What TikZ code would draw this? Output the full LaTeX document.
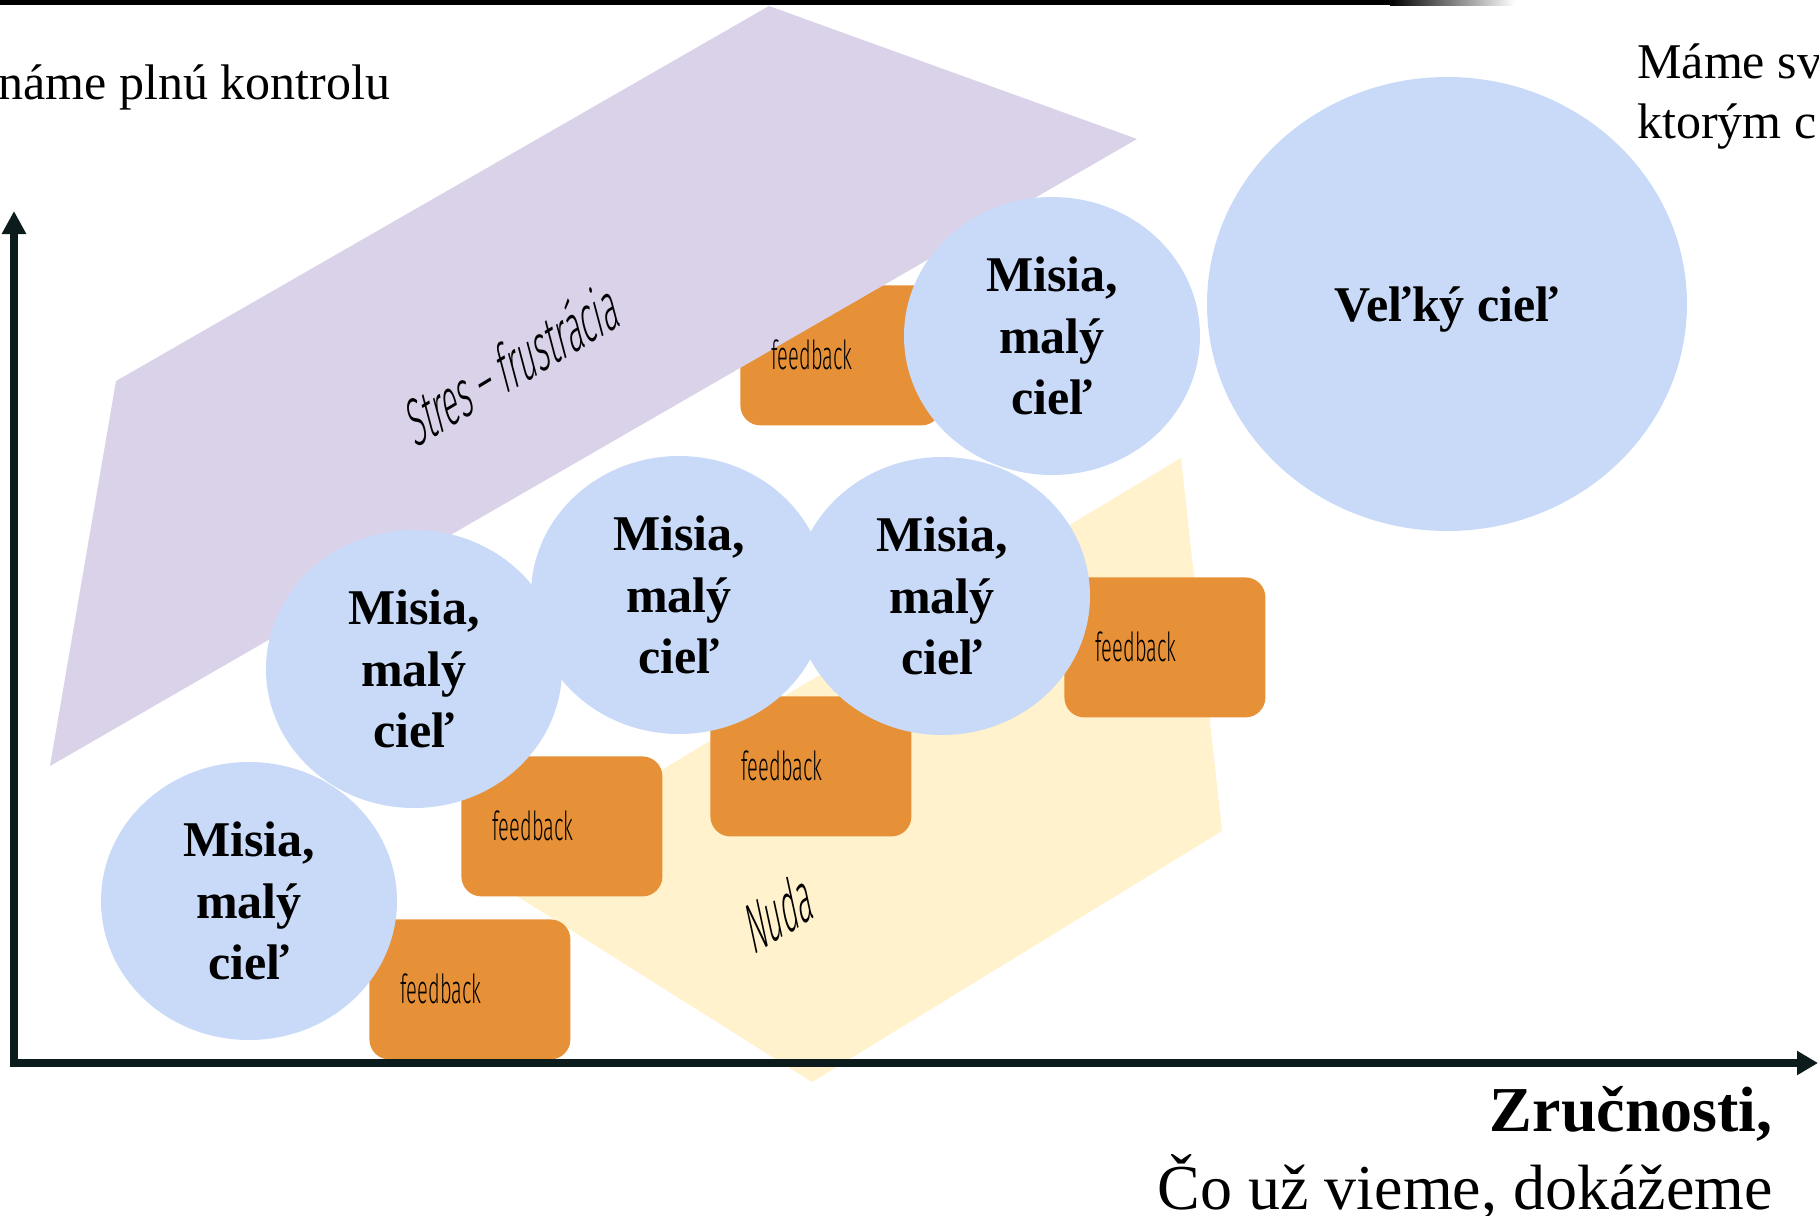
\documentclass[tikz,border=0pt]{standalone}
\usepackage{fontspec}
\setmainfont{Liberation Serif}
\newfontfamily\thinfont[FakeStretch=0.5]{Fira Sans Light}
\newfontfamily\thinfontn[FakeStretch=0.47]{Fira Sans Light}
\usetikzlibrary{shapes.geometric,arrows.meta,calc}
\definecolor{purp}{HTML}{D9D2E9}
\definecolor{yell}{HTML}{FFF2CC}
\definecolor{orng}{HTML}{E69138}
\definecolor{blu}{HTML}{C9DAF8}
\definecolor{axiscol}{HTML}{0C1C1C}
\tikzset{
  mission/.style={ellipse, fill=blu, minimum width=148pt, minimum height=139pt, inner sep=0pt, align=center, font=\bfseries\fontsize{25}{30.75}\selectfont},
  bigmission/.style={ellipse, fill=blu, minimum width=240pt, minimum height=227pt, inner sep=0pt, align=center, text depth=0pt, font=\bfseries\fontsize{25}{30.75}\selectfont},
  fbbox/.style={rectangle, rounded corners=10pt, fill=orng, minimum width=100.5pt, minimum height=70pt, anchor=north west, inner sep=0pt},
  fbtext/.style={font=\thinfont\fontsize{20}{24}\selectfont, anchor=base, inner sep=0pt},
  zonetext/.style={font=\thinfont\fontsize{32}{38}\selectfont, inner sep=0pt},
  axisline/.style={line width=4pt, draw=axiscol, -{Triangle[length=11.5pt,width=11.5pt]}},
  bigtext/.style={font=\fontsize{25}{30}\selectfont, inner sep=0pt, anchor=base west}
}
\begin{document}
\begin{tikzpicture}[x=0.5pt,y=-0.5pt]
\useasboundingbox (0,0) rectangle (1819,1215);
% top rule
\fill[black] (0,0) rectangle (1390,5);
\shade[left color=black, right color=white] (1390,0) rectangle (1515,5);
% boredom zone
\fill[yell] (1181,458) -- (1222,831) -- (812,1082) -- (485,876) -- cycle;
% feedback boxes
\node[fbbox] (b1) at (369,919) {};
\node[fbbox] (b2) at (461,756) {};
\node[fbbox] (b3) at (710,696) {};
\node[fbbox] (b4) at (1064,577) {};
\node[fbbox] (b5) at (740,285) {};
% stress zone
\fill[purp] (116,381) -- (769,6) -- (1137,139) -- (50,766) -- cycle;
% missions
\node[mission] (c1) at (249,901) {Misia,\\malý\\cieľ};
\node[mission] (c2) at (414,669) {Misia,\\malý\\cieľ};
\node[mission] (c3) at (679,595) {Misia,\\malý\\cieľ};
\node[mission] (c4) at (942,596) {Misia,\\malý\\cieľ};
\node[mission] (c5) at (1052,336) {Misia,\\malý\\cieľ};
\node[bigmission] (big) at (1447,304) {Veľký cieľ};
% feedback labels
\foreach \b in {b1,b2,b3,b4,b5}{
  \node[fbtext] (\b t) at ($(\b.north west)+(72,84)$) {feedback};
}
% zone labels
\node[zonetext, rotate=31, xslant=0.29] (stres) at (512,362) {Stres – frustrácia};
\node[zonetext, font=\thinfontn\fontsize{33}{38}\selectfont, rotate=32, xslant=0.36] (nuda) at (779,911) {Nuda};
% axes
\coordinate (origin) at (14,1067);
\coordinate (ytip) at (14,211);
\coordinate (xstart) at (10,1063);
\coordinate (xtip) at (1818,1063);
\draw[axisline] (origin) -- (ytip);
\draw[axisline, -{Triangle[length=10.5pt,width=11.5pt]}] (xstart) -- (xtip);
% texts
\node[bigtext] (ctrl) at (-2,99) {náme plnú kontrolu};
\node[bigtext] (goal1) at (1637,78) {Máme sv};
\node[bigtext] (goal2) at (1637,138) {ktorým c};
\node[font=\bfseries\fontsize{32}{38}\selectfont, inner sep=0pt, anchor=base east] (skill1) at (1773,1131) {Zručnosti,};
\node[font=\fontsize{32}{38}\selectfont, inner sep=0pt, anchor=base east] (skill2) at (1773,1209) {Čo už vieme, dokážeme};
\end{tikzpicture}
\end{document}
